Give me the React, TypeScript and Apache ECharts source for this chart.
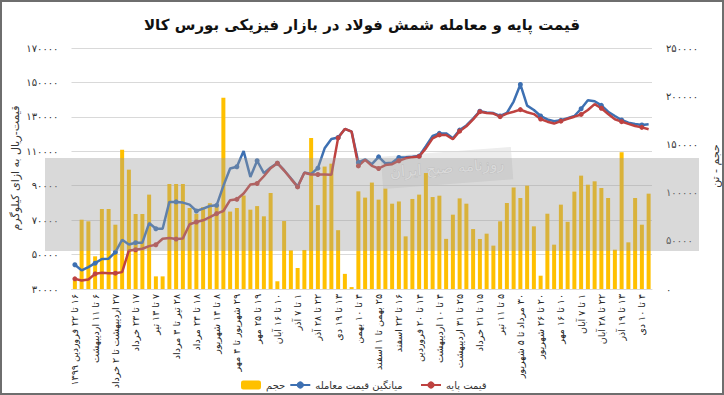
import React, { useEffect, useRef } from "react";
import * as echarts from "echarts";

const title = "قیمت پایه و معامله شمش فولاد در بازار فیزیکی بورس کالا";
const leftAxisName = "قیمت-ریال به ازای کیلوگرم";
const rightAxisName = "حجم - تن";
const seriesNames = ["حجم", "میانگین قیمت معامله", "قیمت پایه"];

// one label every third week
const tickLabels = [
  "۱۶ تا ۲۲ فروردین ۱۳۹۹", "۶ تا ۱۱ اردیبهشت", "۲۷ اردیبهشت تا ۲ خرداد", "۱۷ تا ۲۳ خرداد",
  "۷ تا ۱۳ تیر", "۲۸ تیر تا ۳ مرداد", "۱۸ تا ۲۴ مرداد", "۸ تا ۱۴ شهریور",
  "۲۹ شهریور تا ۴ مهر", "۱۹ تا ۲۵ مهر", "۱۰ تا ۱۶ آبان", "۱ تا ۷ آذر",
  "۲۲ تا ۲۸ آذر", "۱۳ تا ۱۹ دی", "۴ تا ۱۰ بهمن", "۲۵ بهمن تا ۱ اسفند",
  "۱۶ تا ۲۲ اسفند", "۱۴ تا ۲۰ فروردین", "۴ تا ۱۰ اردیبهشت", "۲۵ تا ۳۱ اردیبهشت",
  "۱۵ تا ۲۱ خرداد", "۵ تا ۱۱ تیر", "۳۰ مرداد تا ۵ شهریور", "۲۰ تا ۲۶ شهریور",
  "۱۰ تا ۱۶ مهر", "۱ تا ۷ آبان", "۲۲ تا ۲۸ آبان", "۱۳ تا ۱۹ آذر", "۴ تا ۱۰ دی",
];

const volume = [
  9000, 71900, 70200, 33900, 83000, 83000, 66700, 144500, 123800, 77800,
  77800, 97900, 13100, 13100, 108900, 108900, 108900, 84000, 78000, 85000,
  89000, 87000, 198500, 80300, 84000, 97000, 82300, 86000, 75400, 99600,
  8000, 70500, 40100, 21800, 40500, 156600, 87000, 127000, 130000, 61000,
  15700, 2000, 101300, 94800, 110400, 92700, 104100, 88500, 90800, 54600,
  93400, 97900, 120300, 95400, 96800, 52000, 77100, 94000, 88500, 62200,
  51900, 57400, 45000, 70200, 89200, 105300, 94400, 107200, 65000, 13800,
  78100, 46000, 87500, 69700, 101000, 117600, 108200, 111700, 104800, 94400,
  40800, 141800, 48400, 94400, 66700, 98900,
];

const tradePrice = [
  44100, 40800, 42700, 45000, 47400, 47600, 51400, 58600, 55900, 56900,
  56900, 68300, 65000, 65000, 80600, 80600, 80200, 79000, 75300, 76700,
  78200, 78600, 89900, 100000, 101000, 110100, 95100, 104500, 97300, 100600,
  103100, 99000, 94300, 89500, 97700, 96800, 100200, 111700, 117100, 118000,
  123000, 121400, 103500, 105300, 102500, 106800, 103000, 103300, 106400, 106500,
  106800, 107200, 113000, 118900, 120400, 120400, 117600, 122300, 125000, 129000,
  133300, 132600, 132200, 130500, 132300, 138900, 148800, 136500, 134000, 130500,
  128500, 127500, 128000, 129200, 130500, 134700, 139700, 139100, 136700, 133000,
  130500, 128200, 126600, 125900, 125300, 125700,
];

const basePrice = [
  35900, 34900, 35500, 38800, 39400, 39200, 39200, 39800, 52400, 52800,
  53400, 54900, 55700, 59200, 59600, 59000, 59400, 67600, 68900, 69900,
  71800, 73800, 75300, 81600, 82100, 85500, 90700, 91300, 95500, 100200,
  103100, 98800, 94000, 89300, 97500, 96500, 96500, 96500, 96300, 117800,
  123000, 121400, 101500, 105000, 101500, 100000, 102000, 102500, 104500, 105900,
  106600, 107000, 111700, 117500, 119500, 119500, 117000, 121700, 124500, 128500,
  133000, 132300, 131900, 130100, 131900, 133000, 134200, 132700, 131600, 128700,
  127200, 126100, 127500, 128900, 130100, 131400, 134000, 137400, 135000, 131700,
  128600, 127200, 125900, 124700, 123900, 122800,
];

const categories = volume.map((_, i) => (i % 3 === 0 ? tickLabels[i / 3] : ""));

const fa = (v: any) => String(v).replace(/\d/g, (d) => "۰۱۲۳۴۵۶۷۸۹"[+d]);
const rtl = (v: any) => (v ? "\u200F" + v + "\u200F" : "");
const FONT = "DejaVu Sans";

export default function App() {
  const ref = useRef<HTMLDivElement>(null);
  useEffect(() => {
    document.body.style.margin = "0";
    const chart = echarts.init(ref.current!, null, { renderer: "svg" });
    chart.setOption({
      animation: false,
      backgroundColor: "#ffffff",
      textStyle: { fontFamily: FONT },
      title: {
        text: title,
        left: "center",
        top: 12,
        textStyle: { fontSize: 15, fontWeight: "bold", color: "#111", fontFamily: FONT },
      },
      grid: { left: 71.5, right: 72, top: 48, bottom: 106, containLabel: false },
      legend: [
        {
          data: [seriesNames[0], seriesNames[1]],
          left: 236,
          top: 375,
          itemGap: 4,
          itemWidth: 20,
          itemHeight: 9,
          textStyle: { fontSize: 10, color: "#333", fontFamily: FONT },
        },
        {
          data: [seriesNames[2]],
          left: 415,
          top: 375,
          itemWidth: 20,
          itemHeight: 9,
          textStyle: { fontSize: 10, color: "#333", fontFamily: FONT },
        },
      ],
      xAxis: {
        type: "category",
        data: categories,
        boundaryGap: true,
        axisLine: { show: true, lineStyle: { color: "#d9d9d9" } },
        axisTick: { show: false },
        axisLabel: {
          interval: 2,
          rotate: 90,
          fontSize: 9.5,
          margin: 5,
          color: "#222",
          fontFamily: FONT,
          formatter: rtl,
        },
      },
      yAxis: [
        {
          type: "value",
          min: 30000,
          max: 170000,
          interval: 20000,
          axisLine: { show: false },
          axisTick: { show: false },
          splitLine: { lineStyle: { color: "#d9d9d9", width: 1 } },
          axisLabel: { formatter: fa, fontSize: 10, margin: 13, color: "#333", fontFamily: FONT },
        },
        {
          type: "value",
          min: 0,
          max: 250000,
          interval: 50000,
          axisLine: { show: false },
          axisTick: { show: false },
          splitLine: { show: false },
          axisLabel: { formatter: fa, fontSize: 10, margin: 14, color: "#333", fontFamily: FONT },
        },
      ],
      series: [
        {
          name: seriesNames[0],
          type: "bar",
          yAxisIndex: 1,
          data: volume,
          barWidth: 4,
          itemStyle: { color: "#FFC000" },
        },
        {
          name: seriesNames[1],
          type: "line",
          yAxisIndex: 0,
          data: tradePrice,
          symbol: "circle",
          symbolSize: 5,
          itemStyle: { color: "#3D70B2" },
          lineStyle: { color: "#3D70B2", width: 2.5 },
        },
        {
          name: seriesNames[2],
          type: "line",
          yAxisIndex: 0,
          data: basePrice,
          symbol: "circle",
          symbolSize: 5,
          itemStyle: { color: "#BE4240" },
          lineStyle: { color: "#BE4240", width: 2.5 },
        },
      ],
      graphic: [
        {
          type: "rect",
          z: 50,
          silent: true,
          shape: { x: 45, y: 158, width: 654, height: 93 },
          style: { fill: "#9a9a9a", opacity: 0.38 },
        },
        {
          type: "group",
          x: 447,
          y: 168,
          rotation: 0.075,
          z: 51,
          silent: true,
          children: [
            {
              type: "rect",
              shape: { x: -66, y: -17, width: 132, height: 34 },
              style: { fill: "rgba(225,225,225,0.6)", stroke: "#ffffff", lineWidth: 1.5 },
            },
            {
              type: "text",
              style: {
                text: "روزنامه صبح ایران",
                x: 0,
                y: 0,
                align: "center",
                verticalAlign: "middle",
                fill: "#ffffff",
                stroke: "#c8c8c8",
                lineWidth: 0.6,
                fontSize: 15,
                fontFamily: FONT,
              },
            },
          ],
        },
        {
          type: "text",
          x: 15,
          y: 168,
          rotation: Math.PI / 2,
          style: {
            text: leftAxisName,
            align: "center",
            verticalAlign: "middle",
            fontSize: 11,
            fill: "#333",
            fontFamily: FONT,
          },
        },
        {
          type: "text",
          x: 715,
          y: 166,
          rotation: Math.PI / 2,
          style: {
            text: rightAxisName,
            align: "center",
            verticalAlign: "middle",
            fontSize: 11,
            fill: "#333",
            fontFamily: FONT,
          },
        },
        {
          type: "rect",
          z: 60,
          silent: true,
          shape: { x: 1, y: 1, width: 722, height: 393 },
          style: { fill: "none", stroke: "#6e6e6e", lineWidth: 2 },
        },
      ],
    });
    return () => chart.dispose();
  }, []);
  return <div ref={ref} style={{ width: 724, height: 395 }} />;
}
